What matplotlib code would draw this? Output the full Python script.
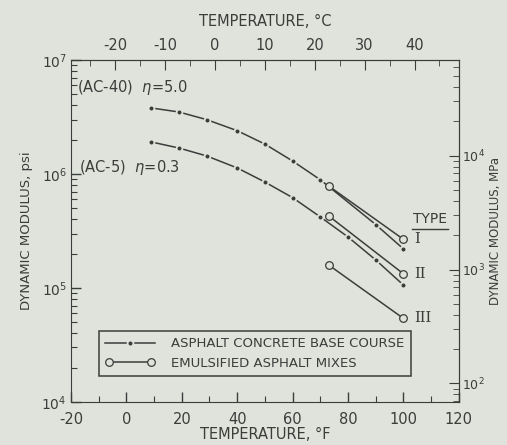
import matplotlib
matplotlib.use("Agg")
import matplotlib.pyplot as plt
import numpy as np
from matplotlib.lines import Line2D
from matplotlib.legend_handler import HandlerLine2D
from matplotlib.ticker import LogLocator, MultipleLocator, NullFormatter, FixedLocator

# asphalt concrete base course (filled dots), temperature in deg F, modulus in psi
ac40_temp = [9, 19, 29, 40, 50, 60, 70, 90, 100]
ac40_mod = [3.8e6, 3.5e6, 3.0e6, 2.4e6, 1.83e6, 1.3e6, 8.9e5, 3.6e5, 2.2e5]
ac5_temp = [9, 19, 29, 40, 50, 60, 70, 80, 90, 100]
ac5_mod = [1.91e6, 1.69e6, 1.44e6, 1.13e6, 8.5e5, 6.2e5, 4.2e5, 2.8e5, 1.76e5, 1.06e5]

# emulsified asphalt mixes (open circles)
emul_temp = [73, 100]
type1_mod = [7.85e5, 2.67e5]
type2_mod = [4.29e5, 1.33e5]
type3_mod = [1.59e5, 5.4e4]
type_labels = ["I", "II", "III"]

# secondary scales
celsius_ticks = [-20, -10, 0, 10, 20, 30, 40]
mpa_ticks = [1e2, 1e3, 1e4]

PSI_TO_MPA = 6.895e-3

bg = "#dfe3dc"
ink = "#3b3d3b"

plt.rcParams["font.family"] = ["DejaVu Sans"]
plt.rcParams["axes.unicode_minus"] = False
plt.rcParams["text.color"] = ink
plt.rcParams["axes.edgecolor"] = ink
plt.rcParams["xtick.color"] = ink
plt.rcParams["ytick.color"] = ink
plt.rcParams["axes.labelcolor"] = ink

fig = plt.figure(figsize=(5.07, 4.45), dpi=100, facecolor=bg)
ax = fig.add_axes([0.140, 0.097, 0.765, 0.768], facecolor=bg)

dot_kw = dict(color=ink, lw=1.1, marker="o", ms=4.2, mfc=ink, mec=bg, mew=1.3)
open_kw = dict(color=ink, lw=1.1, marker="o", ms=5.5, mfc=bg, mec=ink, mew=0.9)

ax.plot(ac40_temp, ac40_mod, **dot_kw)
ax.plot(ac5_temp, ac5_mod, **dot_kw)
for mods in [type1_mod, type2_mod, type3_mod]:
    ax.plot(emul_temp, mods, **open_kw)

ax.set_yscale("log")
ax.set_xlim(-20, 120)
ax.set_ylim(1e4, 1e7)
ax.xaxis.set_major_locator(MultipleLocator(20))
ax.xaxis.set_minor_locator(MultipleLocator(10))
ax.yaxis.set_major_locator(LogLocator(base=10))
ax.yaxis.set_minor_locator(LogLocator(base=10, subs=np.arange(2, 10)))
ax.yaxis.set_minor_formatter(NullFormatter())
ax.tick_params(which="both", direction="in", labelsize=10.5)
ax.tick_params(which="major", length=7, width=1)
ax.tick_params(which="minor", length=4, width=0.8)
ax.tick_params(axis="x", pad=7)
ax.tick_params(axis="y", labelsize=10, pad=3)
ax.set_xlabel("TEMPERATURE, °F", fontsize=10.5, labelpad=0)
ax.set_ylabel("DYNAMIC MODULUS, psi", fontsize=9.5, labelpad=6)

# top axis in deg C
top = ax.secondary_xaxis("top", functions=(lambda f: (f - 32) * 5 / 9, lambda c: c * 9 / 5 + 32))
top.set_xticks(celsius_ticks)
top.xaxis.set_minor_locator(FixedLocator([c + 5 for c in [-30] + celsius_ticks]))
top.tick_params(which="both", direction="in", labelsize=10.5, pad=5)
top.tick_params(which="major", length=7)
top.tick_params(which="minor", length=4)
top.set_xlabel("TEMPERATURE, °C", fontsize=10.5, labelpad=9)

# right axis in MPa
right = ax.secondary_yaxis("right", functions=(lambda p: p * PSI_TO_MPA, lambda m: m / PSI_TO_MPA))
right.set_yticks(mpa_ticks, labels=["$10^2$", "$10^3$", "$10^4$"])
minor_mpa = [s * 10.0 ** e for e in [1, 2, 3, 4] for s in range(2, 10)]
minor_mpa = [m for m in minor_mpa if 1e4 * PSI_TO_MPA < m < 1e7 * PSI_TO_MPA]
right.yaxis.set_minor_locator(FixedLocator(minor_mpa))
right.yaxis.set_minor_formatter(NullFormatter())
right.tick_params(which="both", direction="in", labelsize=9, pad=2)
right.tick_params(which="major", length=7)
right.tick_params(which="minor", length=4)
right.set_ylabel("DYNAMIC MODULUS, MPa", fontsize=8.5, labelpad=3)

ax.text(-18, 5.7e6, "(AC-40)  $\\eta$=5.0", fontsize=10.5, va="center", ha="left")
ax.text(-17, 1.15e6, "(AC-5)  $\\eta$=0.3", fontsize=10.5, va="center", ha="left")

ax.text(109.5, 3.5e5, "TYPE", fontsize=10, ha="center", va="bottom")
ax.plot([103, 116], [3.3e5, 3.3e5], color=ink, lw=1)
for lab, mods in zip(type_labels, [type1_mod, type2_mod, type3_mod]):
    ax.text(104, mods[-1], lab, fontsize=10.5, ha="left", va="center", family="DejaVu Serif")

h1 = Line2D([], [], **dot_kw)
h2 = Line2D([], [], **open_kw)
leg = ax.legend([h1, h2], ["ASPHALT CONCRETE BASE COURSE", "EMULSIFIED ASPHALT MIXES"],
                handler_map={h1: HandlerLine2D(numpoints=1), h2: HandlerLine2D(numpoints=2)},
                loc="lower left", bbox_to_anchor=(0.054, 0.055, 0.84, 0.15), mode="expand",
                fancybox=False, edgecolor=ink, facecolor=bg, framealpha=1, fontsize=9.5,
                handlelength=3.8, handletextpad=1.2, borderpad=0.5, labelspacing=0.5)
leg.get_frame().set_linewidth(1.1)

fig.savefig("out.png", dpi=100, facecolor=bg)
